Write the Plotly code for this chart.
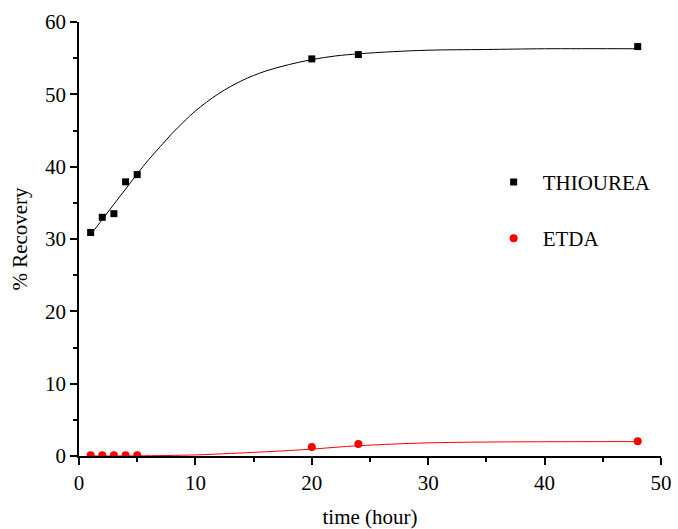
import plotly.graph_objects as go

# Measured data
time_h = [1, 2, 3, 4, 5, 20, 24, 48]
thiourea = [30.9, 33.0, 33.5, 37.9, 38.9, 54.9, 55.5, 56.6]
etda = [0.1, 0.1, 0.1, 0.1, 0.1, 1.25, 1.65, 2.05]

# Fitted curves
fit_t_x = [1, 2, 3, 4, 5, 6, 7, 8, 9, 10, 12, 14, 16, 18, 20, 22, 24, 27, 30, 35, 40, 48]
fit_t_y = [30.6, 32.7, 34.8, 36.9, 39.0, 41.0, 42.8, 44.6, 46.2, 47.7, 50.1, 51.9, 53.2, 54.1,
           54.8, 55.3, 55.6, 55.9, 56.1, 56.2, 56.3, 56.3]
fit_e_x = [1, 5, 10, 13, 15, 18, 20, 22, 24, 27, 30, 35, 40, 48]
fit_e_y = [0.0, 0.02, 0.15, 0.35, 0.5, 0.75, 0.95, 1.2, 1.42, 1.65, 1.82, 1.93, 1.97, 1.99]

FONT = "Liberation Serif"
FS = 21

fig = go.Figure()
fig.add_trace(go.Scatter(x=fit_t_x, y=fit_t_y, mode="lines", line=dict(color="black", width=1, shape="spline"),
                         showlegend=False, hoverinfo="skip"))
fig.add_trace(go.Scatter(x=fit_e_x, y=fit_e_y, mode="lines", line=dict(color="red", width=1, shape="spline"),
                         showlegend=False, hoverinfo="skip"))
fig.add_trace(go.Scatter(x=time_h, y=thiourea, mode="markers", name="THIOUREA",
                         marker=dict(symbol="square", size=7, color="black"), legendgroup="a"))
fig.add_trace(go.Scatter(x=time_h, y=etda, mode="markers", name="ETDA",
                         marker=dict(symbol="circle", size=8, color="red"), legendgroup="b"))

axis_common = dict(
    showline=True, linecolor="black", linewidth=1.5, mirror=False,
    showgrid=False, zeroline=False, automargin=False,
    ticks="outside", ticklen=7, tickwidth=1.5, tickcolor="black",
    tickfont=dict(family=FONT, size=FS, color="black"),
)

fig.update_layout(
    width=678, height=529,
    margin=dict(l=79, r=17, t=22, b=73),
    paper_bgcolor="white", plot_bgcolor="white",
    font=dict(family=FONT, size=FS, color="black"),
    xaxis=dict(range=[0, 50], dtick=10,
               minor=dict(dtick=5, ticks="outside", ticklen=4, tickwidth=1.5, tickcolor="black"),
               title=dict(text="time (hour)", font=dict(family=FONT, size=FS), standoff=18),
               **axis_common),
    yaxis=dict(range=[0, 60], dtick=10,
               minor=dict(dtick=5, ticks="outside", ticklen=4, tickwidth=1.5, tickcolor="black"),
               title=dict(text="% Recovery", font=dict(family=FONT, size=FS), standoff=12),
               **axis_common),
    legend=dict(x=0.697, y=0.678, xanchor="left", yanchor="top", bgcolor="rgba(0,0,0,0)",
                font=dict(family=FONT, size=FS, color="black"),
                traceorder="grouped", tracegroupgap=26, itemwidth=48),
)

fig.write_html("out.html", config={"displayModeBar": False},
               post_script="document.body.style.margin='0';")
